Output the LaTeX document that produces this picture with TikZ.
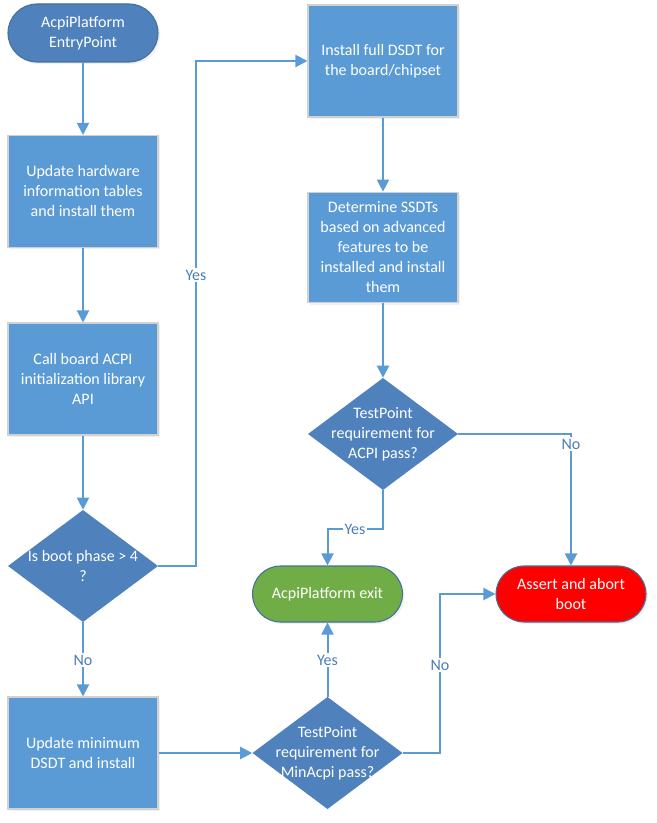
\documentclass[tikz,border=0pt]{standalone}
\usepackage{fontspec}
\setmainfont{Carlito}
\usetikzlibrary{arrows.meta,shadows}
\definecolor{dkblue}{HTML}{4F81BD}
\definecolor{ltblue}{HTML}{5B9BD5}
\definecolor{edgeblue}{HTML}{41719C}
\definecolor{lblblue}{HTML}{4A7EBB}
\definecolor{okgreen}{HTML}{70AD47}
\begin{document}
\begin{tikzpicture}[x=0.75pt,y=-0.75pt,
  every node/.style={font=\fontsize{12}{15}\selectfont, align=center},
  procbox/.style={rectangle, fill=ltblue, draw=black!18, line width=0.8pt, text=white,
    minimum width=112.5pt, minimum height=84pt, inner sep=0pt,
    drop shadow={shadow xshift=1.5pt, shadow yshift=-1.5pt, opacity=0.12}},
  term/.style={rectangle, rounded corners=21pt, fill=#1, draw=edgeblue, line width=0.8pt, text=white,
    minimum width=112.5pt, minimum height=42pt, inner sep=0pt,
    drop shadow={shadow xshift=1.5pt, shadow yshift=-1.5pt, opacity=0.12}},
  decision/.style={rectangle, minimum width=112.5pt, minimum height=84pt, inner sep=0pt, text=white,
    path picture={\fill[dkblue] (path picture bounding box.north) -- (path picture bounding box.east)
      -- (path picture bounding box.south) -- (path picture bounding box.west) -- cycle;}},
  conn/.style={draw=ltblue, line width=1.5pt, -{Triangle[length=9pt,width=9pt]}},
  lbl/.style={fill=white, text=lblblue, inner sep=1pt}
]
\useasboundingbox (0,0) rectangle (656,823);

\node[term=dkblue, minimum height=43.5pt, rounded corners=21.75pt] (start) at (83,33) {AcpiPlatform\\EntryPoint};
\node[procbox] (upd) at (83,191.5) {Update hardware\\information tables\\and install them};
\node[procbox] (call) at (83,379) {Call board ACPI\\initialization library\\API};
\node[decision] (phase) at (83,566) {Is boot phase > 4\\?};
\node[procbox] (minupd) at (83,753) {Update minimum\\DSDT and install};

\node[procbox] (full) at (383,61) {Install full DSDT for\\the board/chipset};
\node[procbox, minimum height=83pt] (ssdt) at (383,247.5) {Determine SSDTs\\based on advanced\\features to be\\installed and install\\them};
\node[decision] (acpi) at (383,434) {TestPoint\\requirement for\\ACPI pass?};
\node[term=okgreen] (exit) at (327.5,594) {AcpiPlatform exit};
\node[term=red] (abort) at (571,594) {Assert and abort\\boot};
\node[decision] (minacpi) at (327.5,753) {TestPoint\\requirement for\\MinAcpi pass?};

\coordinate (c1) at (196,300);
\coordinate (j1) at (355,529);
\coordinate (c2) at (440,665);

\draw[conn] (start) -- (upd);
\draw[conn] (upd) -- (call);
\draw[conn] (call) -- (phase.north);
\draw[conn] (phase.south) -- (minupd);
\draw[conn] (phase.east) -| (c1) |- (full.west);
\draw[conn] (full) -- (ssdt);
\draw[conn] (ssdt) -- (acpi.north);
\draw[conn] (acpi.south) |- (j1) -| (exit.north);
\draw[conn] (acpi.east) -| (abort.north);
\draw[conn] (minupd.east) -- (minacpi.west);
\draw[conn] (minacpi.north) -- (exit.south);
\draw[conn] (minacpi.east) -| (c2) |- (abort.west);

\node[lbl] (yes1) at (196,275) {Yes};
\node[lbl] (no1) at (83,660) {No};
\node[lbl] (yes2) at (355,529) {Yes};
\node[lbl] (no2) at (571,444) {No};
\node[lbl] (yes3) at (327.5,660) {Yes};
\node[lbl] (no3) at (440,665) {No};
\end{tikzpicture}
\end{document}
